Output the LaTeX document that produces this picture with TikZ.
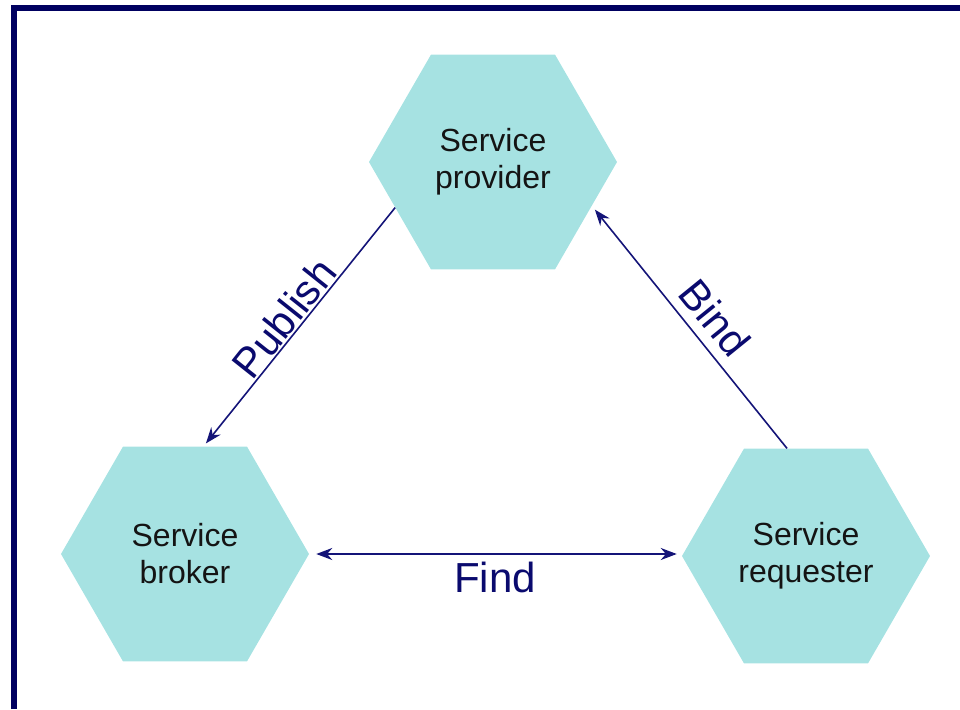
\documentclass[tikz,border=0pt]{standalone}
\usepackage{fontspec}
\setmainfont{Liberation Sans}
\usetikzlibrary{shapes.geometric,arrows.meta}
\definecolor{hexfill}{RGB}{166,226,226}
\definecolor{framec}{RGB}{0,0,96}
\definecolor{arrowc}{RGB}{20,20,120}
\definecolor{lblc}{RGB}{10,10,110}
\begin{document}
\begin{tikzpicture}[x=1pt,y=-1pt,
  hexnode/.style={regular polygon, regular polygon sides=6, minimum size=248pt,
    inner sep=0pt, fill=hexfill, align=center,
    font=\fontsize{32}{37}\selectfont, text=black!92},
  conn/.style={draw=arrowc, line width=1.6pt, -{Stealth[length=16pt,width=12pt]}},
  lbl/.style={text=lblc, font=\fontsize{42}{48}\selectfont, inner sep=0pt}
]
\useasboundingbox (0,0) rectangle (960,709);
% frame
\draw[framec, line width=6pt, line join=miter] (14,709) -- (14,8) -- (960,8);
% nodes
\node[hexnode] (prov) at (493,162) {Service\\provider};
\node[hexnode] (brok) at (185,554) {Service\\broker};
\node[hexnode] (req)  at (806,556) {Service\\requester};
% connectors
\draw[conn] (prov.205) -- ([yshift=3pt]brok.79);
\draw[conn] (req.100) -- ([xshift=4pt,yshift=-2pt]prov.335);
\draw[draw=arrowc, line width=2.2pt, {Stealth[length=16pt,width=12pt]}-{Stealth[length=16pt,width=12pt]}]
  ([xshift=7pt]brok.east) -- ([xshift=-5pt]brok.east -| req.west);
% labels
\node[lbl, rotate=51.5] (publbl) at (284,318) {Publish};
\node[lbl, rotate=-51] (bindlbl) at (715,318) {Bind};
\node[lbl, anchor=base] (findlbl) at (495,592) {Find};
\end{tikzpicture}
\end{document}
